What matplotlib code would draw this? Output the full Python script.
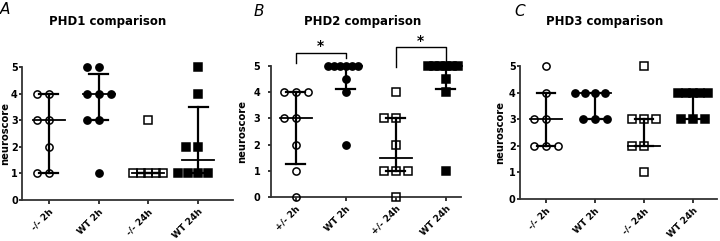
import matplotlib.pyplot as plt
import numpy as np

# panel A - PHD1
a_labels = ['-/- 2h', 'WT 2h', '-/- 24h', 'WT 24h']
a_ko2 = [4, 4, 3, 3, 2, 1, 1]
a_wt2 = [5, 5, 4, 4, 4, 3, 3, 1]
a_ko24 = [3, 1, 1, 1, 1, 1]
a_wt24 = [5, 4, 2, 2, 1, 1, 1, 1]
a_med = [3, 4, 1, 1.5]
a_q1 = [1, 3, 1, 1]
a_q3 = [4, 4.75, 1, 3.5]

# panel B - PHD2
b_labels = ['+/- 2h', 'WT 2h', '+/- 24h', 'WT 24h']
b_het2 = [4, 4, 4, 3, 3, 2, 1, 0]
b_wt2 = [5, 5, 5, 5, 5, 5, 4.5, 4, 2]
b_het24 = [4, 3, 3, 2, 1, 1, 1, 0]
b_wt24 = [5, 5, 5, 5, 5, 5, 4.5, 4, 1]
b_med = [3, 5, 1.5, 5]
b_q1 = [1.25, 4.125, 1, 4.125]
b_q3 = [4, 5, 3, 5]

# panel C - PHD3
c_labels = ['-/- 2h', 'WT 2h', '-/- 24h', 'WT 24h']
c_ko2 = [5, 4, 3, 3, 2, 2, 2]
c_wt2 = [4, 4, 4, 4, 3, 3, 3]
c_ko24 = [5, 3, 3, 3, 2, 2, 1]
c_wt24 = [4, 4, 4, 4, 4, 3, 3, 3]
c_med = [3, 4, 2, 4]
c_q1 = [2, 3, 2, 3]
c_q3 = [4, 4, 3, 4]

markers = [('o', 'none'), ('o', 'black'), ('s', 'none'), ('s', 'black')]


def spread(vals):
    # put equal values side by side, like a column scatter
    vals = np.asarray(vals, dtype=float)
    off = np.zeros(len(vals))
    for v in np.unique(vals):
        idx = np.where(vals == v)[0]
        k = len(idx)
        if k == 1:
            continue
        s = min(0.24, 0.6 / (k - 1))
        off[idx] = (np.arange(k) - k // 2) * s
    return off


def panel(ax, groups, labels, med, q1, q3, xlim, ypad, lab_x):
    for i, vals in enumerate(groups):
        m, fc = markers[i]
        x = i + spread(vals)
        ax.plot(x, vals, linestyle='none', marker=m, markersize=5.2,
                markerfacecolor=fc, markeredgecolor='black', markeredgewidth=1.1,
                clip_on=False, zorder=3)
        ax.plot([i, i], [q1[i], q3[i]], color='black', lw=1.6, zorder=4, clip_on=False)
        ax.plot([i - 0.19, i + 0.19], [q1[i], q1[i]], color='black', lw=1.6, zorder=4, clip_on=False)
        ax.plot([i - 0.19, i + 0.19], [q3[i], q3[i]], color='black', lw=1.6, zorder=4, clip_on=False)
        ax.plot([i - 0.32, i + 0.32], [med[i], med[i]], color='black', lw=1.3, zorder=4, clip_on=False)
    ax.set_xlim(*xlim)
    ax.set_ylim(0, 5)
    ax.set_xticks(range(4))
    ax.set_xticklabels(labels, rotation=45, ha='right', rotation_mode='anchor',
                       fontsize=6.5, fontweight='bold')
    ax.set_yticks(range(6))
    ax.set_yticklabels([str(t) for t in range(6)], fontsize=7, fontweight='bold')
    ax.spines['top'].set_visible(False)
    ax.spines['right'].set_visible(False)
    for sp in ['left', 'bottom']:
        ax.spines[sp].set_linewidth(1.3)
        ax.spines[sp].set_color('#333333')
    ax.tick_params(axis='x', length=3, width=1.1, pad=2)
    ax.tick_params(axis='y', length=2.5, width=1.1, pad=ypad)
    ax.set_ylabel('neuroscore', fontsize=7.2, fontweight='bold')
    ax.yaxis.set_label_coords(lab_x, 0.5)


fig = plt.figure(figsize=(7.2, 2.41), dpi=100)
axA = fig.add_axes([0.0306, 0.170, 0.293, 0.552])
axB = fig.add_axes([0.376, 0.182, 0.264, 0.544])
axC = fig.add_axes([0.722, 0.174, 0.274, 0.552])

panel(axA, [a_ko2, a_wt2, a_ko24, a_wt24], a_labels, a_med, a_q1, a_q3, (-0.54, 3.70), 0.5, -0.056)
panel(axB, [b_het2, b_wt2, b_het24, b_wt24], b_labels, b_med, b_q1, b_q3, (-0.5, 3.3), 5, -0.126)
panel(axC, [c_ko2, c_wt2, c_ko24, c_wt24], c_labels, c_med, c_q1, c_q3, (-0.53, 3.49), 0.5, -0.074)

# significance brackets in B
for (x0, x1, yl, yr, ytop, ystar) in [(0, 1, 5.1, 5.29, 5.5, 5.75), (2, 3, 4.97, 5.2, 5.72, 5.97)]:
    axB.plot([x0, x0, x1, x1], [yl, ytop, ytop, yr], color='black', lw=1.0, clip_on=False)
    axB.text((x0 + x1) / 2, ystar, '*', ha='center', va='center', fontsize=10, fontweight='bold')

fig.text(108 / 720, 1 - 22 / 241, 'PHD1 comparison', ha='center', va='center', fontsize=8.5, fontweight='bold')
fig.text(363 / 720, 1 - 22 / 241, 'PHD2 comparison', ha='center', va='center', fontsize=8.5, fontweight='bold')
fig.text(605 / 720, 1 - 22 / 241, 'PHD3 comparison', ha='center', va='center', fontsize=8.5, fontweight='bold')

fig.text(5 / 720, 1 - 10 / 241, 'A', ha='center', va='center', fontsize=11, style='italic')
fig.text(259 / 720, 1 - 11 / 241, 'B', ha='center', va='center', fontsize=11, style='italic')
fig.text(520 / 720, 1 - 11 / 241, 'C', ha='center', va='center', fontsize=11, style='italic')

fig.savefig('out.png', dpi=100)
